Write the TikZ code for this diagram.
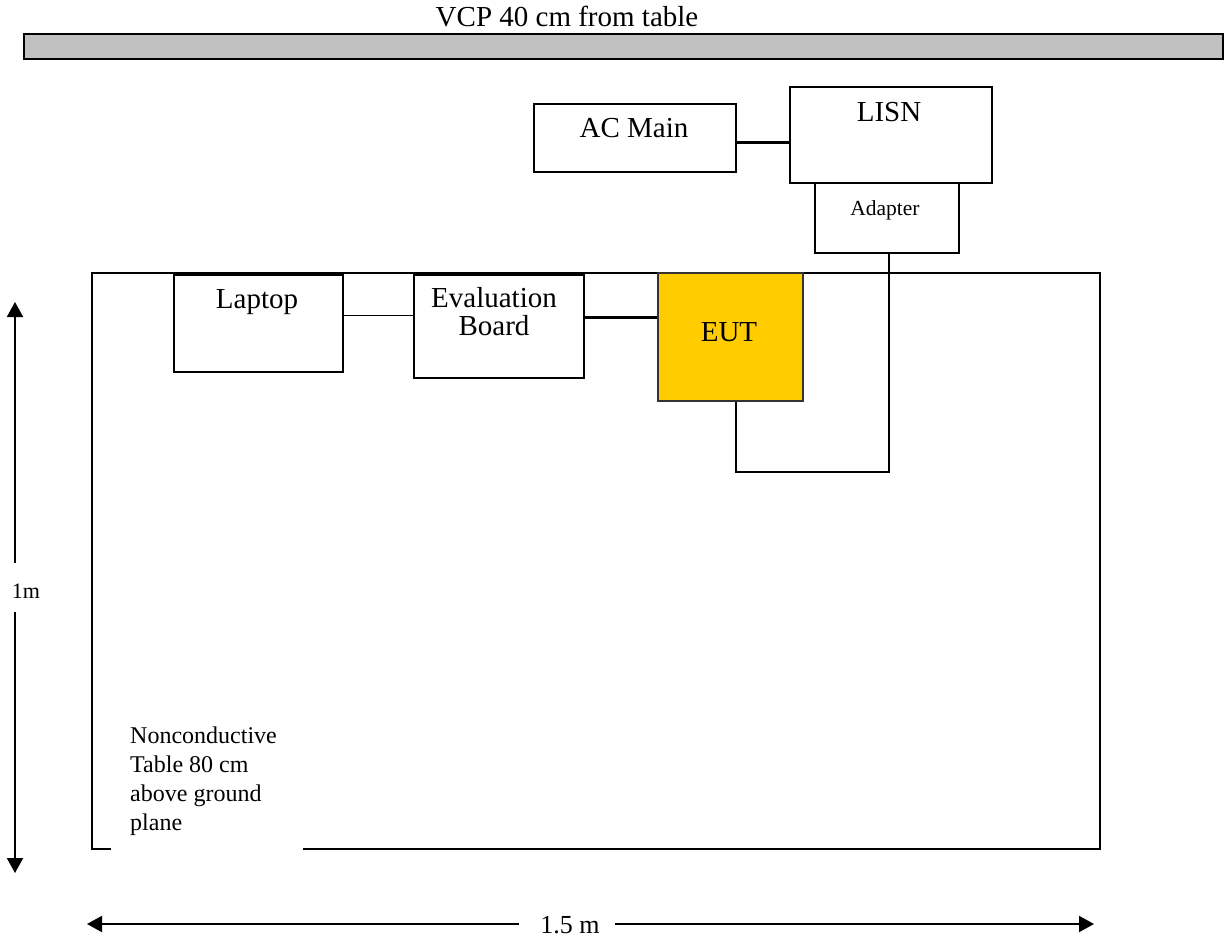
\documentclass[tikz,border=0pt]{standalone}
\usepackage{fontspec}
\setmainfont{Liberation Serif}
\usetikzlibrary{arrows.meta}
\definecolor{vcpgray}{RGB}{192,192,192}
\definecolor{eutyellow}{RGB}{255,204,0}
\tikzset{
  box/.style={draw=black, line width=2pt, inner sep=0pt, anchor=north west, fill=white},
  big/.style={font=\fontsize{29}{34}\selectfont, inner sep=0pt},
  wire/.style={line width=1.6pt},
  heavywire/.style={line width=3pt},
  dimarrow/.style={line width=2pt, -{Triangle[width=16pt,length=15pt]}},
}
\begin{document}
\begin{tikzpicture}[x=1pt,y=-1pt]
\useasboundingbox (0,0) rectangle (1225,942);
% VCP
\node[big, anchor=base] (vcptxt) at (567,27) {VCP 40 cm from table};
\draw[line width=2.2pt, fill=vcpgray] (24,34) rectangle (1223,59);
% table
\draw[line width=2.2pt] (111,849) -- (92,849) -- (92,273) -- (1100,273) -- (1100,849) -- (303,849);
% boxes
\node[box, minimum width=202pt, minimum height=68pt] (ac) at (533,103) {};
\node[box, minimum width=202pt, minimum height=96pt] (lisn) at (789,86) {};
\node[box, minimum width=144pt, minimum height=70pt] (adp) at (814,182) {};
\node[box, minimum width=169pt, minimum height=97pt] (lap) at (173,274) {};
\node[box, minimum width=170pt, minimum height=103pt] (eval) at (413,274) {};
\node[box, minimum width=145pt, minimum height=128pt, fill=eutyellow, draw=black!80] (eut) at (657,272) {};
% texts
\node[big, anchor=base] (actxt) at (634,137) {AC Main};
\node[big, anchor=base] (lisntxt) at (889,121) {LISN};
\node[font=\fontsize{21.5}{25}\selectfont, inner sep=0pt, anchor=base] (adptxt) at (885,215) {Adapter};
\node[big, anchor=base] (laptxt) at (257,308) {Laptop};
\node[big, anchor=north, align=center, font=\fontsize{29}{28}\selectfont] (evaltxt) at (494,287) {Evaluation\\Board};
\node[big, anchor=base] (euttxt) at (729,341) {EUT};
\node[font=\fontsize{24}{29}\selectfont, inner sep=0pt, anchor=north west, align=left] (tabletxt) at (130,727) {Nonconductive\\Table 80 cm\\above ground\\plane};
% connectors
\draw[heavywire] ([yshift=-4pt]ac.east) -- ([yshift=-4pt]ac.east -| lisn.west);
\draw[wire] ([yshift=8pt]lap.east) -- ([yshift=8pt]lap.east -| eval.west);
\draw[heavywire] ([yshift=9pt]eval.east) -- ([yshift=9pt]eval.east -| eut.west);
\coordinate (c1) at (736,472);
\coordinate (c2) at (889,472);
\draw[line width=2.2pt] (eut.south -| c1) -- (c1) -- (c2) -- (c2 |- adp.south);
% dimension 1m
\node[font=\fontsize{22}{26}\selectfont, inner sep=0pt, anchor=base] (onem) at (26,598) {1m};
\coordinate (vtop) at (15,302);
\coordinate (vbot) at (15,873);
\draw[dimarrow] (15,563) -- (vtop);
\draw[dimarrow] (15,612) -- (vbot);
% dimension 1.5 m
\node[font=\fontsize{26}{30}\selectfont, inner sep=0pt, anchor=base] (onefive) at (570,933) {1.5 m};
\coordinate (hl) at (87,924);
\coordinate (hr) at (1094,924);
\draw[dimarrow] (519,924) -- (hl);
\draw[dimarrow] (615,924) -- (hr);
\end{tikzpicture}
\end{document}
